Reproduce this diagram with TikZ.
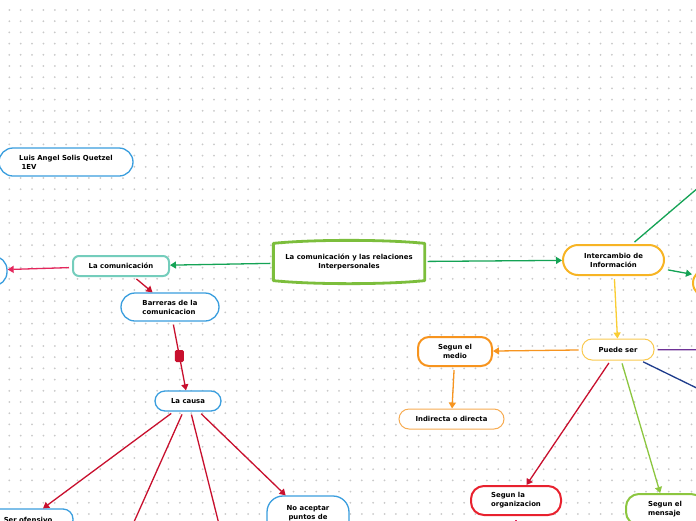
\documentclass[tikz,border=0pt]{standalone}
\usepackage{fontspec}
\setmainfont{DejaVu Sans}
\usetikzlibrary{arrows.meta,positioning}
\definecolor{cblue}{RGB}{58,158,222}
\definecolor{cteal}{RGB}{116,205,188}
\definecolor{cgreen}{RGB}{124,190,60}
\definecolor{cdgreen}{RGB}{20,163,85}
\definecolor{cgold}{RGB}{247,180,36}
\definecolor{cyellow}{RGB}{250,202,80}
\definecolor{cyarrow}{RGB}{250,205,50}
\definecolor{corange}{RGB}{247,148,30}
\definecolor{clorange}{RGB}{247,172,82}
\definecolor{cred}{RGB}{232,33,46}
\definecolor{ccrimson}{RGB}{200,16,46}
\definecolor{cpink}{RGB}{228,38,92}
\definecolor{clime}{RGB}{140,198,63}
\definecolor{cpurple}{RGB}{110,50,150}
\definecolor{cnavy}{RGB}{30,60,140}
\begin{document}
\begin{tikzpicture}[x=1pt, y=-1pt, every node/.style={font=\fontsize{6.9}{9}\selectfont\bfseries},
    box/.style={draw=cblue, line width=1.3pt, fill=white, align=center, inner sep=0pt, rounded corners=10pt, minimum height=20pt},
    con/.style={line width=1.3pt, shorten <=3pt, -{Triangle[length=6pt,width=7pt]}}]
  \clip (0,0) rectangle (696,520);
  \fill[white] (0,0) rectangle (696,520);
  \foreach \i in {0,...,61} \foreach \j in {0,...,46}
    \fill[gray!42] (9.3+11.37*\i, 10+11.2*\j) circle (1pt);
  \node[box, minimum width=134pt, minimum height=28pt, rounded corners=14pt, align=left] (luis) at (66,162) {Luis Angel Solis Quetzel\\\ 1EV};
  \node[box, minimum width=150pt, minimum height=36pt, draw=none] (cen) at (349,262) {La comunicación y las relaciones\\Interpersonales};
  \draw[cgreen, line width=2.8pt, line join=round] (cen.south west) -- (cen.north west) .. controls +(40,-4) and +(-40,-4) .. (cen.north east) -- (cen.south east) .. controls +(-40,4) and +(40,4) .. (cen.south west) -- cycle;
  \node[box, draw=cteal, line width=2pt, minimum width=96pt, rounded corners=6pt] (com) at (121,266) {La comunicación};
  \node[box, minimum width=94pt, minimum height=30pt, rounded corners=14pt] (lft) at (-40,271) {};
  \node[box, minimum width=98pt, minimum height=28pt, rounded corners=14pt, align=left] (bar) at (170,307) {Barreras de la\\comunicacion};
  \node[box, minimum width=66pt] (cau) at (188,401) {La causa};
  \node[box, minimum width=90pt, minimum height=21pt] (ofe) at (28,519.5) {Ser ofensivo};
  \node[box, minimum width=82pt, minimum height=42pt, rounded corners=16pt] (noa) at (308,517) {No aceptar\\puntos de\\\mbox{}};
  \coordinate (o1) at (117,560);
  \coordinate (o2) at (228,560);
  \node[box, draw=cgold, line width=2pt, minimum width=101pt, minimum height=30pt, rounded corners=15pt] (int) at (613.5,260) {Intercambio de\\Información};
  \node[box, draw=cgold, line width=2pt, minimum width=94pt, minimum height=28pt, rounded corners=14pt] (rgt) at (740,283) {};
  \coordinate (o3) at (760,135);
  \node[box, draw=cyellow, line width=1pt, minimum width=72pt, minimum height=21pt] (pue) at (618,349.5) {Puede ser};
  \node[box, draw=corange, line width=2pt, minimum width=74pt, minimum height=29pt, rounded corners=11pt] (med) at (455,351.5) {Segun el\\medio};
  \node[box, draw=clorange, line width=1pt, minimum width=105pt] (ind) at (451.5,419) {Indirecta o directa};
  \node[box, draw=cred, line width=2pt, minimum width=90pt, minimum height=29pt, rounded corners=13pt, align=left] (org) at (516,500.5) {Segun la\\organizacion};
  \node[box, draw=clime, line width=2pt, minimum width=78pt, minimum height=31pt, rounded corners=13pt, align=left] (men) at (665,509.5) {Segun el\\mensaje};
  \coordinate (o4) at (760,350);
  \coordinate (o5) at (760,419);
  \coordinate (o6) at (516,560);
  \draw[con, cdgreen] (cen) -- (com);
  \draw[con, cdgreen] (cen) -- (int);
  \draw[con, cpink] (com) -- (lft);
  \draw[con, ccrimson] (com) -- (bar);
  \draw[con, ccrimson] (bar) -- node[fill=ccrimson, minimum width=9pt, minimum height=12pt, inner sep=0pt, rounded corners=1.5pt] (mk) {} (cau);
  \draw[con, ccrimson] (cau) -- (ofe);
  \draw[con, ccrimson] (cau) -- (o1);
  \draw[con, ccrimson] (cau) -- (o2);
  \draw[con, ccrimson] (cau) -- (noa);
  \draw[con, cdgreen] (int) -- (o3);
  \draw[con, cdgreen] (int) -- (rgt);
  \draw[con, cyarrow] (int) -- (pue);
  \draw[con, corange] (pue) -- (med);
  \draw[con, corange] (med) -- (ind);
  \draw[con, cpurple] (pue) -- (o4);
  \draw[con, cnavy] (pue) -- (o5);
  \draw[con, ccrimson] (pue) -- (org);
  \draw[con, clime] (pue) -- (men);
  \draw[con, cpink, shorten <=4pt] (org) -- (o6);
\end{tikzpicture}
\end{document}
